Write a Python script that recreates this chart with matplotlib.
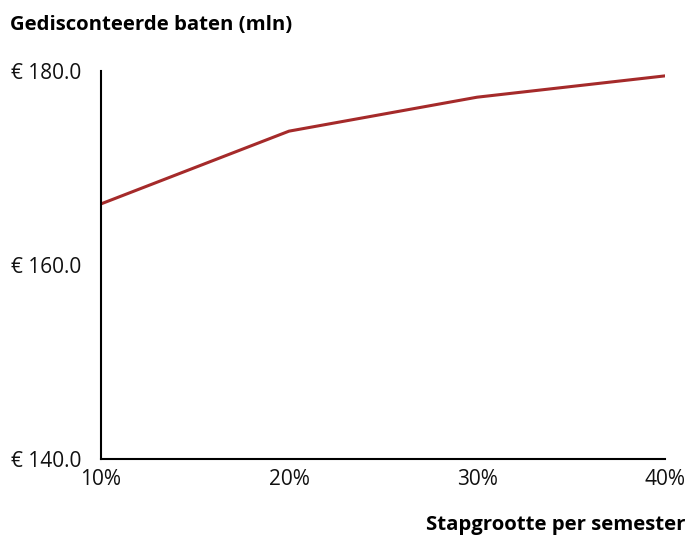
import matplotlib
matplotlib.use("Agg")
import matplotlib.pyplot as plt
from matplotlib.ticker import FuncFormatter

steps = [0.10, 0.20, 0.30, 0.40]
step_labels = ["10%", "20%", "30%", "40%"]
baten = [166.3, 173.8, 177.3, 179.5]
yticks = [140.0, 160.0, 180.0]

plt.rcParams['font.family'] = ['Open Sans', 'DejaVu Sans']

fig = plt.figure(figsize=(6.88, 5.36), dpi=100)
ax = fig.add_axes([0.1468, 0.1437, 0.8198, 0.7238])
ax.plot(steps, baten, color='#A52A2A', lw=2.2)
ax.set_xlim(0.10, 0.40)
ax.set_ylim(140, 180)
ax.set_xticks(steps)
ax.set_xticklabels(step_labels)
ax.set_yticks(yticks)
ax.yaxis.set_major_formatter(FuncFormatter(lambda v, p: f"€ {v:.1f}"))
for s in ['top', 'right']:
    ax.spines[s].set_visible(False)
for s in ['left', 'bottom']:
    ax.spines[s].set_linewidth(1.5)
    ax.spines[s].set_color('black')
ax.tick_params(axis='both', length=0, labelsize=15, colors='#111111')
ax.tick_params(axis='y', pad=14)
ax.tick_params(axis='x', pad=7)
fig.text(10/688, 1 - 25/536, "Gedisconteerde baten (mln)", fontsize=14.7, fontweight='bold',
         ha='left', va='center')
fig.text(685/688, 1 - 525/536, "Stapgrootte per semester", fontsize=14.7, fontweight='bold',
         ha='right', va='center')
fig.savefig("out.png", dpi=100)
